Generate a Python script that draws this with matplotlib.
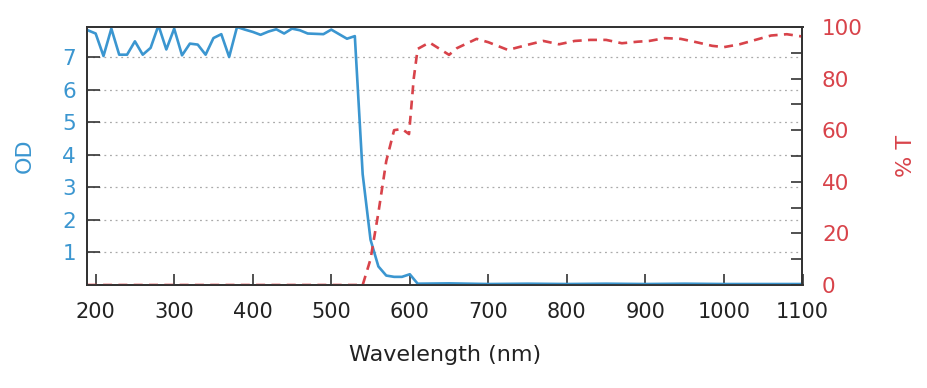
import numpy as np
import matplotlib
matplotlib.use("Agg")
import matplotlib.pyplot as plt
from matplotlib.ticker import MultipleLocator

# OD curve (blue, left axis)
wl_od = [190, 200, 210, 220, 230, 240, 250, 260, 270, 280, 290, 300, 310, 320,
         330, 340, 350, 360, 370, 380, 390, 400, 410, 420, 430, 440, 450, 460,
         470, 480, 490, 500, 510, 520, 530, 540, 550, 560, 570, 580, 590, 600,
         610, 650, 700, 750, 800, 850, 900, 950, 1000, 1050, 1100]
od = [7.82, 7.72, 7.03, 7.87, 7.07, 7.07, 7.48, 7.07, 7.28, 7.97, 7.23, 7.87,
      7.05, 7.41, 7.38, 7.07, 7.58, 7.70, 7.00, 7.92, 7.84, 7.77, 7.68, 7.78,
      7.85, 7.72, 7.87, 7.82, 7.72, 7.71, 7.70, 7.84, 7.70, 7.56, 7.64, 3.4,
      1.39, 0.57, 0.29, 0.25, 0.25, 0.33, 0.04, 0.05, 0.03, 0.04, 0.03, 0.04,
      0.03, 0.04, 0.03, 0.03, 0.03]

# Transmission curve (red dashed, right axis)
wl_t = [190, 540, 550, 560, 570, 580, 590, 599, 605, 610, 625, 650, 660, 685,
        700, 725, 750, 770, 790, 810, 830, 850, 870, 890, 905, 925, 945, 965,
        985, 1000, 1020, 1040, 1060, 1080, 1100]
trans = [0, 0, 10, 28, 48, 60, 60.5, 58.5, 80, 91.5, 94, 89.2, 91.8, 95.4,
         94.1, 91.1, 93.1, 94.6, 93.3, 94.6, 95, 95, 93.7, 94.3, 94.6, 95.7,
         95.4, 94.1, 92.7, 92.2, 93.3, 95, 96.7, 97.2, 96.3]

blue = '#3b96d0'
red = '#d8434a'
edge = '#333333'

plt.rcParams['font.family'] = ['DejaVu Sans']

fig = plt.figure(figsize=(9.28, 3.88), dpi=100)
ax = fig.add_axes([87 / 928, 1 - 285 / 388, (802.5 - 87) / 928, (285 - 27) / 388])
ax2 = ax.twinx()

ax.plot(wl_od, od, color=blue, lw=1.9, zorder=3)
ax2.plot(wl_t, trans, color=red, lw=1.9, dashes=(3.4, 2.4))

ax.set_xlim(189, 1100)
ax.set_ylim(0, 7.92)
ax2.set_ylim(0, 100)

ax.xaxis.set_major_locator(MultipleLocator(100))
ax2.yaxis.set_major_locator(MultipleLocator(20))
ax2.yaxis.set_minor_locator(MultipleLocator(10))

ax.set_yticks([1, 2, 3, 4, 5, 6, 7])
ax.grid(axis='y', color='#aaaaaa', ls=(0, (1.5, 3)), lw=0.9)

ax.tick_params(axis='x', direction='in', length=8, width=1.2, color=edge,
               labelsize=15, pad=12, labelcolor='#222222')
ax.tick_params(axis='y', direction='in', length=9, width=1.2, color=edge,
               labelsize=15.5, pad=8, labelcolor=blue)
ax2.tick_params(axis='y', which='both', direction='in', length=8, width=1.2,
                color=edge, labelsize=15.5, pad=14, labelcolor=red)

for a in (ax, ax2):
    for s in a.spines.values():
        s.set_color(edge)
        s.set_linewidth(1.3)

ax.set_xlabel('Wavelength (nm)', fontsize=16, color='#222222', labelpad=17)
ax.set_ylabel('OD', fontsize=16, color=blue, labelpad=20)
ax2.set_ylabel('% T', fontsize=16, color=red, labelpad=24)

fig.savefig('out.png', dpi=100)
